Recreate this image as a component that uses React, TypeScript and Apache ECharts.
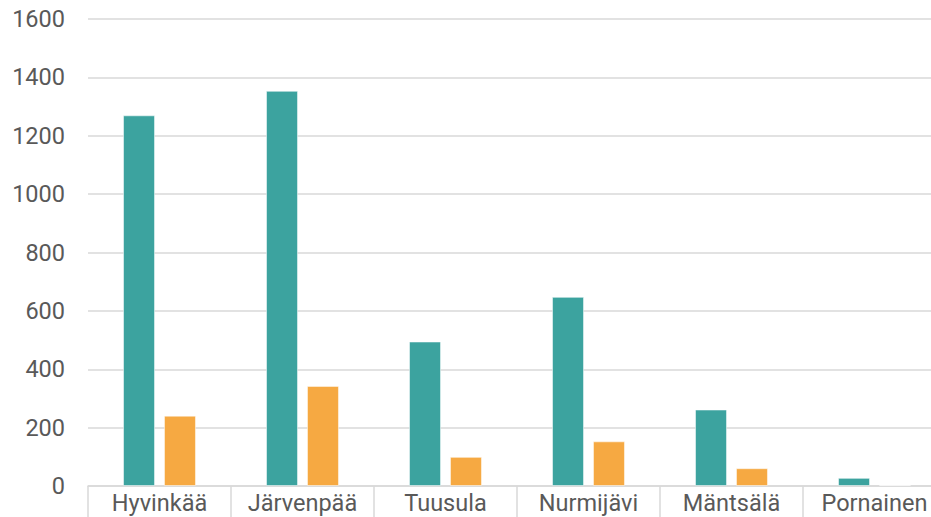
import React, { useEffect, useRef } from "react";
import * as echarts from "echarts";

const categories = ["Hyvinkää", "Järvenpää", "Tuusula", "Nurmijävi", "Mäntsälä", "Pornainen"];
const seriesA = [1270, 1354, 495, 648, 262, 28];
const seriesB = [241, 343, 100, 153, 61, 3];
const yTicks = { min: 0, max: 1600, interval: 200 };

export default function App() {
  const ref = useRef<HTMLDivElement>(null);
  useEffect(() => {
    if (!ref.current) return;
    const chart = echarts.init(ref.current, null, { renderer: "svg" });
    const font = "Roboto";
    chart.setOption({
      animation: false,
      backgroundColor: "#ffffff",
      grid: { left: 88, right: 0, top: 19, bottom: 31, containLabel: false },
      xAxis: {
        type: "category",
        data: categories,
        axisLine: { show: true, lineStyle: { color: "#d9d9d9", width: 1.5 } },
        axisTick: { show: true, length: 40, lineStyle: { color: "#d9d9d9", width: 1.5 } },
        axisLabel: { color: "#595959", fontSize: 23.5, fontFamily: font, margin: 5 },
      },
      yAxis: {
        type: "value",
        min: yTicks.min,
        max: yTicks.max,
        interval: yTicks.interval,
        axisLine: { show: false },
        axisTick: { show: false },
        splitLine: { lineStyle: { color: "#d9d9d9", width: 1.5 } },
        axisLabel: {
          color: "#595959",
          fontSize: 23.5,
          fontFamily: font,
          margin: 23,
          formatter: (v: number) => String(v),
        },
      },
      series: [
        {
          type: "bar",
          data: seriesA,
          barWidth: 32,
          barGap: "28%",
          itemStyle: { color: "#3ca39f", borderColor: "rgba(255,255,255,0.5)", borderWidth: 1 },
        },
        {
          type: "bar",
          data: seriesB,
          barWidth: 32,
          barGap: "28%",
          itemStyle: { color: "#f6a942", borderColor: "rgba(255,255,255,0.5)", borderWidth: 1 },
        },
      ],
    });
    return () => chart.dispose();
  }, []);
  return (
    <div style={{ width: 931, height: 517, position: "absolute", left: 0, top: 0, overflow: "hidden" }}>
      <div ref={ref} style={{ width: 946, height: 517 }} />
    </div>
  );
}
